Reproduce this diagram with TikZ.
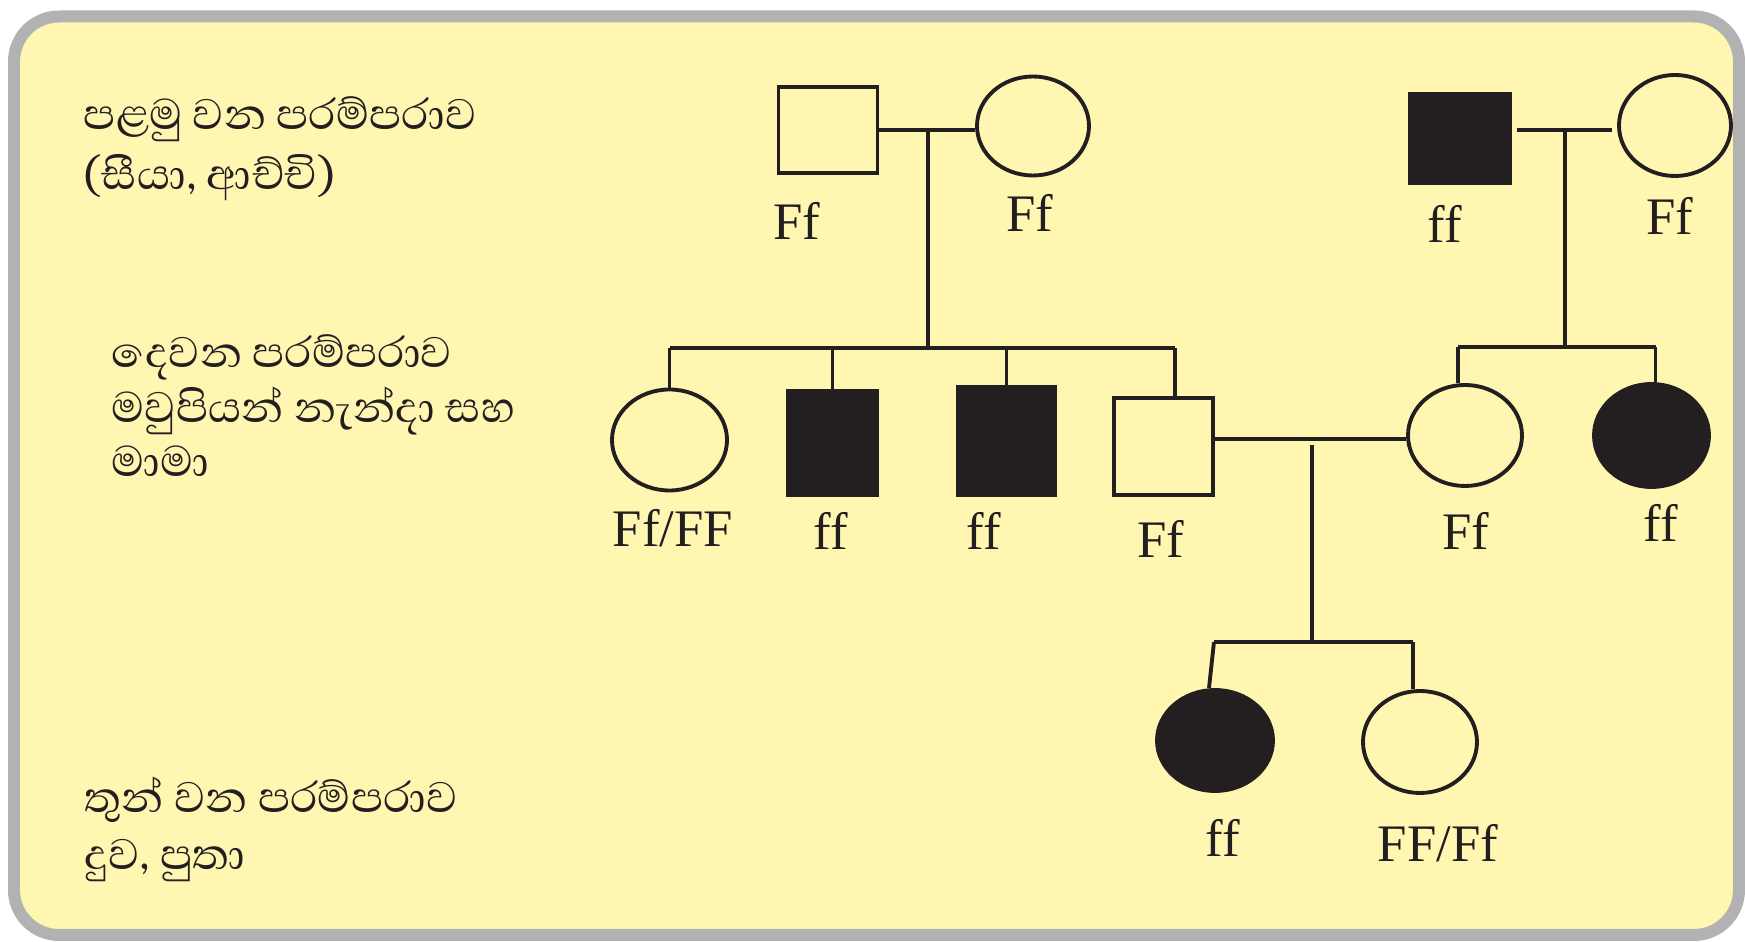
\documentclass[tikz,border=0pt]{standalone}
\usepackage{fontspec}
\setmainfont{Liberation Serif}
\newfontfamily\sinhala[Script=Sinhala]{Abhaya Libre}
\usetikzlibrary{shapes.geometric}
\definecolor{paleyellow}{RGB}{255,246,178}
\definecolor{framegray}{RGB}{178,178,178}
\definecolor{inkblack}{RGB}{35,31,32}

\begin{document}
\begin{tikzpicture}[
        color=inkblack, % line and text colour
        line width=1.1pt, % line style
        node distance=2cm % distance between nodes
      ]

      \tikzstyle{male}=[rectangle,draw,inner sep=0pt,minimum width=0.99cm,minimum height=0.9cm]
      \tikzstyle{female}=[ellipse,draw,inner sep=0pt,minimum width=1.14cm,minimum height=1.01cm]
      \tikzstyle{ill}=[fill=inkblack]
      \tikzstyle{geno}=[anchor=base,inner sep=0pt,font=\fontsize{15}{18}\selectfont]
      \tikzstyle{gen}=[anchor=base west,align=left,inner sep=0pt]

      % frame
      \useasboundingbox (0,0) rectangle (17.45,-9.42);
      \draw[framegray,fill=paleyellow,line width=0.12cm,rounded corners=0.45cm] (0.14,-0.165) rectangle (17.39,-9.35);

      % generation names (anchored at the last line)
      \node[gen,font=\sinhala\fontsize{15.6}{17}\selectfont] (g1) at (0.82,-1.895) {පළමු වන පරම්පරාව\\(සීයා, ආච්චි)};
      \node[gen,font=\sinhala\fontsize{15.6}{15.5}\selectfont] (g2) at (1.10,-4.765) {දෙවන පරම්පරාව\\මවුපියන් නැන්දා සහ\\මාමා};
      \node[gen,font=\sinhala\fontsize{15.6}{16.3}\selectfont] (g3) at (0.83,-8.70) {තුන් වන පරම්පරාව\\දුව, පුතා};

      % first generation
      \node[male,minimum height=0.86cm] (gf) at (8.28,-1.30) {};
      \node[female,minimum width=1.12cm,minimum height=0.99cm] (gm) [right of=gf,node distance=2.05cm,yshift=0.04cm] {};
      \node[male,ill,minimum width=1cm,minimum height=0.89cm] (gf2) at (14.60,-1.385) {};
      \node[female,minimum width=1.12cm] (gm2) [right of=gf2,node distance=2.15cm,yshift=0.13cm] {};

      % second generation
      \node[female,minimum width=1.15cm] (c1) at (6.695,-4.40) {};
      \node[male,ill,minimum width=0.89cm,minimum height=1.04cm] (c2) at (8.325,-4.43) {};
      \node[male,ill,minimum width=0.97cm,minimum height=1.08cm] (c3) at (10.065,-4.41) {};
      \node[male,minimum height=0.97cm] (c4) at (11.635,-4.465) {};
      \node[female] (c5) at (14.65,-4.355) {};
      \node[female,ill,minimum width=1.15cm,minimum height=1.03cm] (c6) [right of=c5,node distance=1.865cm] {};

      % third generation
      \node[female,ill,minimum width=1.16cm] (d1) at (12.15,-7.405) {};
      \node[female,minimum height=1.02cm] (d2) [right of=d1,node distance=2.05cm,yshift=-0.015cm] {};

      % genotypes
      \node[geno] (gf-g) at (7.97,-2.40) {Ff};
      \node[geno] (gm-g) at (10.30,-2.32) {Ff};
      \node[geno] (gf2-g) at (14.45,-2.43) {ff};
      \node[geno] (gm2-g) at (16.70,-2.35) {Ff};
      \node[geno] (c1-g) at (6.73,-5.47) {Ff/FF};
      \node[geno] (c2-g) at (8.31,-5.50) {ff};
      \node[geno] (c3-g) at (9.84,-5.50) {ff};
      \node[geno] (c4-g) at (11.61,-5.58) {Ff};
      \node[geno] (c5-g) at (14.66,-5.50) {Ff};
      \node[geno] (c6-g) at (16.61,-5.42) {ff};
      \node[geno] (d1-g) at (12.23,-8.57) {ff};
      \node[geno] (d2-g) at (14.38,-8.62) {FF/Ff};

      % joints
      \coordinate (m1) at (9.28,-1.30);
      \coordinate (s1) at (9.28,-3.48);
      \coordinate (m2) at (15.65,-1.30);
      \coordinate (s2) at (15.65,-3.47);
      \coordinate (m3) at (13.12,-4.39);
      \coordinate (s3) at (13.12,-6.42);

      % left family
      \draw (gf.east |- m1) -- (gm.west |- m1);
      \draw (m1) -- (s1);
      \draw (c1.north |- s1) -- ([xshift=0.115cm]c4.north |- s1);
      \foreach \k in {c1,c2,c3}
        \draw (\k.north) -- (\k.north |- s1);
      \draw ([xshift=0.115cm]c4.north) -- ([xshift=0.115cm]c4.north |- s1);

      % right family
      \draw[shorten <=0.05cm,shorten >=0.05cm] (gf2.east |- m2) -- (gm2.west |- m2);
      \draw (m2) -- (s2);
      \draw ([xshift=-0.07cm]c5.north |- s2) -- ([xshift=0.04cm]c6.north |- s2);
      \draw ([xshift=-0.07cm]c5.north) -- ([xshift=-0.07cm]c5.north |- s2);
      \draw ([xshift=0.04cm]c6.north) -- ([xshift=0.04cm]c6.north |- s2);

      % children
      \draw (c4.east |- m3) -- (c5.west |- m3);
      \draw ([yshift=-0.06cm]m3) -- (s3);
      \draw ([xshift=-0.01cm]d1.north |- s3) -- ([xshift=-0.07cm]d2.north |- s3);
      \draw ([xshift=-0.06cm]d1.north) -- ([xshift=-0.01cm]d1.north |- s3);
      \draw ([xshift=-0.07cm]d2.north) -- ([xshift=-0.07cm]d2.north |- s3);

    \end{tikzpicture}
\end{document}
